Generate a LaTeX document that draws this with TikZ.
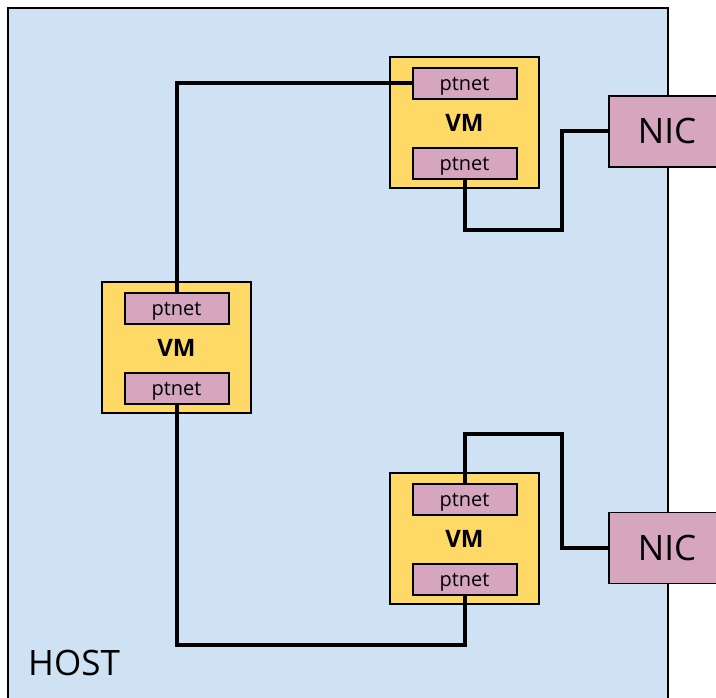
\documentclass[tikz,border=0pt]{standalone}
\usepackage{fontspec}
\setmainfont{Open Sans}
\usetikzlibrary{positioning}
\definecolor{hostBack}{HTML}{CFE2F3}
\definecolor{vmBack}{HTML}{FFD966}
\definecolor{portBack}{HTML}{D5A6BD}

\begin{document}
\begin{tikzpicture}[x=1pt,y=-1pt, vm/.style={draw,line width=2pt,fill=vmBack,minimum width=149pt,minimum height=131pt,inner sep=0pt,font=\fontsize{24}{28}\selectfont\bfseries}, port/.style={draw,line width=2pt,fill=portBack,minimum width=104pt,minimum height=31pt,inner sep=0pt,text depth=0pt,font=\fontsize{20}{24}\selectfont}, nic/.style={draw,line width=1.2pt,fill=portBack,minimum width=116pt,minimum height=71pt,inner sep=0pt,font=\fontsize{35}{40}\selectfont}, link/.style={line width=4pt}]
\useasboundingbox (0,0) rectangle (716,698);
\clip (0,0) rectangle (716,698);
\draw[line width=1.5pt,fill=hostBack] (8,8) rectangle (668,720);
\node[anchor=base west,inner sep=0pt,font=\fontsize{35}{40}\selectfont] (hostlabel) at (28,675) {HOST};
% machines
\node[vm] (vmA) at (464.5,122.5) {VM};
\node[port,below=11pt of vmA.north] (portA1) {ptnet};
\node[port,above=9pt of vmA.south] (portA2) {ptnet};
\node[vm] (vmB) at (176.5,347.5) {VM};
\node[port,below=11pt of vmB.north] (portB1) {ptnet};
\node[port,above=9pt of vmB.south] (portB2) {ptnet};
\node[vm] (vmC) at (464.5,538.5) {VM};
\node[port,below=11pt of vmC.north] (portC1) {ptnet};
\node[port,above=9pt of vmC.south] (portC2) {ptnet};
\node[nic] (nic1) at (667,131.5) {NIC};
\node[nic] (nic2) at (667,548) {NIC};
% links
\coordinate (bend1) at (562,230);
\coordinate (bend2) at (562,434);
\draw[link] (portB1.north) |- (portA1.west);
\draw[link] (portA2.south) |- (bend1) |- (nic1.west);
\draw[link] (portC1.north) |- (bend2) |- (nic2.west);
\draw[link] (portB2.south) -- ++(0,240) -| (portC2.south);
\end{tikzpicture}
\end{document}
